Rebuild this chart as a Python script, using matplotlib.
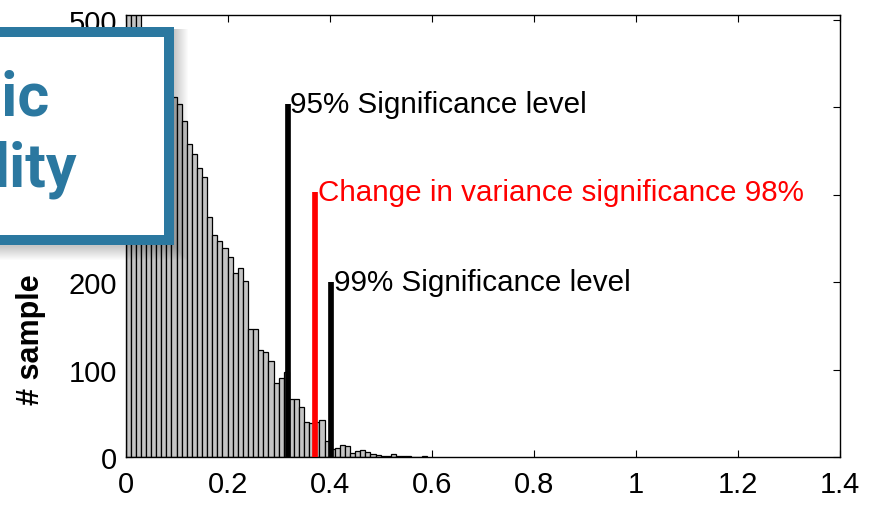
import numpy as np
import matplotlib
matplotlib.use("Agg")
import matplotlib.pyplot as plt
from matplotlib.patches import Rectangle

plt.rcParams['font.family'] = ['Liberation Sans', 'DejaVu Sans']

# histogram of the test statistic, bins of 0.01 starting at 0
bin_start = 0.0
bin_width = 0.01
counts = [530, 522, 512, 488, 470, 458, 445, 432, 421, 412,
          404, 384, 358, 347, 331, 320, 275, 254, 247, 239,
          229, 211, 216, 202, 147, 147, 123, 120, 110, 85,
          91, 98, 67, 67, 57, 40, 39, 40, 43, 19,
          9, 11, 14, 13, 5, 7, 8, 6, 4, 3,
          1, 1, 4, 1, 1, 2, 0, 0, 1]

# threshold markers: position, height, label, colour
mark_x = [0.318, 0.372, 0.403]
mark_h = [404, 303, 200]
mark_txt = ['95% Significance level', 'Change in variance significance 98%', '99% Significance level']
mark_col = ['black', 'red', 'black']

xticks = [0, 0.2, 0.4, 0.6, 0.8, 1, 1.2, 1.4]
xticklabels = ['0', '0.2', '0.4', '0.6', '0.8', '1', '1.2', '1.4']
yticks = [0, 100, 200, 300, 400, 500]

W, H = 877, 506
fig = plt.figure(figsize=(W / 100, H / 100), dpi=100)
ax = fig.add_axes([125.5 / W, 1 - 458.3 / H, (840 - 125.5) / W, (458.3 - 15.7) / H])

left = bin_start + bin_width * np.arange(len(counts))
ax.bar(left, counts, width=bin_width, align='edge', color='#c4c4c4',
       edgecolor='black', linewidth=0.9, zorder=2)

for x, h, t, c in zip(mark_x, mark_h, mark_txt, mark_col):
    ax.plot([x, x], [0, h], color=c, linewidth=4.1, solid_capstyle='butt', zorder=3)
    ax.text(x + 0.005, h, t, color=c, fontsize=21.3, va='center', ha='left', zorder=4)

ax.set_xlim(0, 1.4)
ax.set_ylim(0, 505.8)
ax.set_xticks(xticks)
ax.set_xticklabels(xticklabels)
ax.set_yticks(yticks)
ax.tick_params(direction='in', length=5.3, width=0.8, labelsize=21,
               top=True, right=True)
ax.tick_params(axis='x', pad=9)
ax.tick_params(axis='y', pad=6)
for s in ax.spines.values():
    s.set_linewidth(1.0)

fig.text(31 / W, 1 - 340 / H, '# sample', rotation=90, fontsize=22, fontweight='bold',
         ha='center', va='center')

# overlay card with soft shadow
def px(x0, y0, x1, y1):
    return (x0 / W, 1 - y1 / H), (x1 - x0) / W, (y1 - y0) / H

blue = '#2b78a0'
for i in range(14):
    xy, w, h = px(-30, 27.7 + 2, 174 + 1 + i, 246 + 2 + i)
    fig.add_artist(Rectangle(xy, w, h, transform=fig.transFigure,
                             facecolor='black', edgecolor='none', alpha=0.015))
xy, w, h = px(-30, 32.7, 169, 241)
fig.add_artist(Rectangle(xy, w, h, transform=fig.transFigure, facecolor='white',
                         edgecolor=blue, linewidth=7.2))
card_font = ['Liberation Sans Narrow', 'DejaVu Sans Condensed', 'Roboto', 'DejaVu Sans']
fig.text(50 / W, 1 - 115 / H, 'nic', color=blue, fontsize=44, fontweight='bold',
         fontstretch='condensed', family=card_font, ha='right', va='baseline')
fig.text(77 / W, 1 - 187 / H, 'lity', color=blue, fontsize=44, fontweight='bold',
         fontstretch='condensed', family=card_font, ha='right', va='baseline')

fig.savefig('out.png', dpi=100)
